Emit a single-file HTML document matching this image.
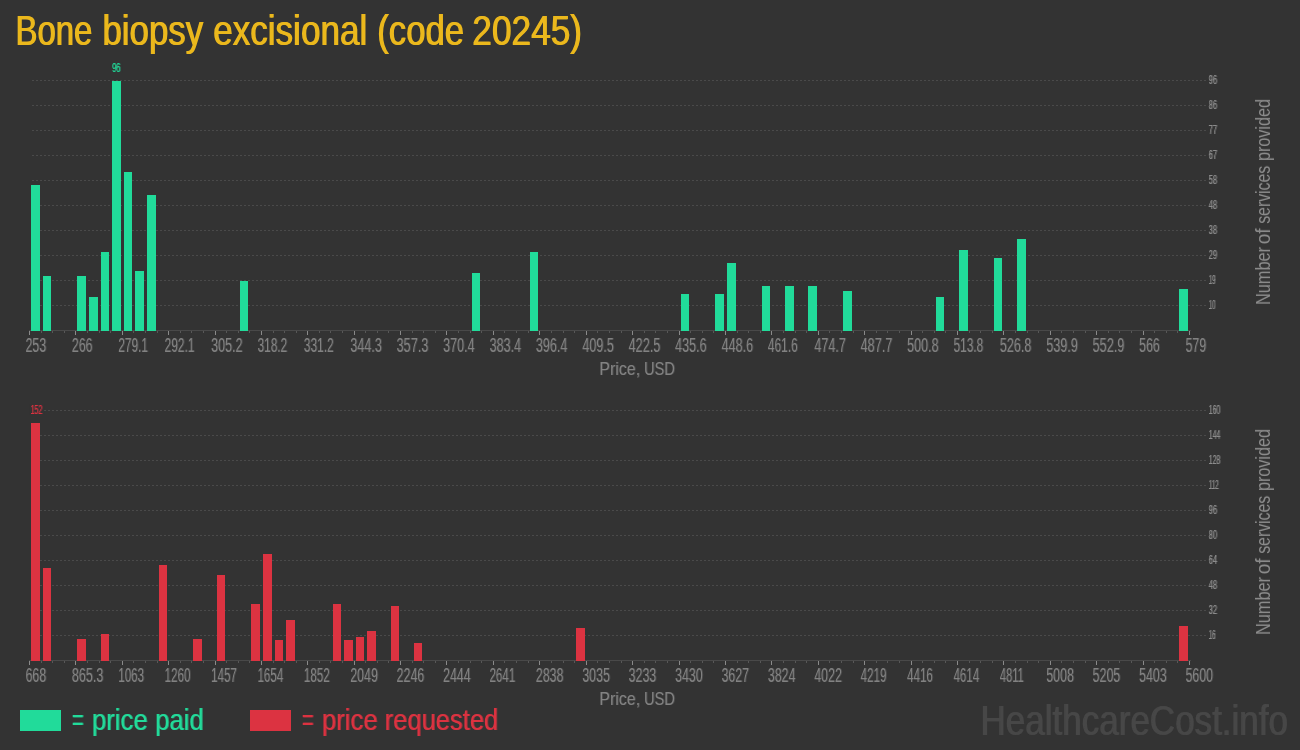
<!DOCTYPE html>
<html lang="en"><head><meta charset="utf-8"><title>Bone biopsy excisional (code 20245)</title>
<style>
html,body{margin:0;padding:0;background:#333333;overflow:hidden}
svg{display:block}
text{font-family:"Liberation Sans",sans-serif;white-space:pre}
</style></head><body>
<svg width="1300" height="750" viewBox="0 0 1300 750">
<defs><filter id="ft" x="-5%" y="-30%" width="110%" height="160%"><feOffset in="SourceGraphic" dx="1" dy="0" result="o1"/><feMerge><feMergeNode in="SourceGraphic"/><feMergeNode in="o1"/></feMerge></filter><filter id="fl" x="-5%" y="-30%" width="110%" height="160%"><feOffset in="SourceGraphic" dx="1" dy="0" result="o1"/><feComponentTransfer in="o1" result="o1"><feFuncA type="linear" slope="0.6"/></feComponentTransfer><feMerge><feMergeNode in="SourceGraphic"/><feMergeNode in="o1"/></feMerge></filter><filter id="fw" x="-5%" y="-30%" width="110%" height="160%"><feOffset in="SourceGraphic" dx="1" dy="0" result="o1"/><feMerge><feMergeNode in="SourceGraphic"/><feMergeNode in="o1"/></feMerge></filter><filter id="fp" x="-5%" y="-30%" width="110%" height="160%"><feOffset in="SourceGraphic" dx="1" dy="0" result="o1"/><feComponentTransfer in="o1" result="o1"><feFuncA type="linear" slope="0.3"/></feComponentTransfer><feMerge><feMergeNode in="SourceGraphic"/><feMergeNode in="o1"/></feMerge></filter><filter id="fx" x="-5%" y="-30%" width="110%" height="160%"><feOffset in="SourceGraphic" dx="1" dy="0" result="o1"/><feComponentTransfer in="o1" result="o1"><feFuncA type="linear" slope="0.3"/></feComponentTransfer><feMerge><feMergeNode in="SourceGraphic"/><feMergeNode in="o1"/></feMerge></filter><filter id="fv" x="-5%" y="-30%" width="110%" height="160%"><feOffset in="SourceGraphic" dx="1" dy="0" result="o1"/><feComponentTransfer in="o1" result="o1"><feFuncA type="linear" slope="0.15"/></feComponentTransfer><feMerge><feMergeNode in="SourceGraphic"/><feMergeNode in="o1"/></feMerge></filter><filter id="fy" x="-5%" y="-30%" width="110%" height="160%"><feOffset in="SourceGraphic" dx="1" dy="0" result="o1"/><feComponentTransfer in="o1" result="o1"><feFuncA type="linear" slope="0.5"/></feComponentTransfer><feMerge><feMergeNode in="SourceGraphic"/><feMergeNode in="o1"/></feMerge></filter></defs>
<rect width="1300" height="750" fill="#333333"/>
<g shape-rendering="crispEdges"><line x1="32" x2="1206" y1="80.5" y2="80.5" stroke="#4a4a4a" stroke-width="1" stroke-dasharray="2 2"/><line x1="32" x2="1206" y1="105.5" y2="105.5" stroke="#4a4a4a" stroke-width="1" stroke-dasharray="2 2"/><line x1="32" x2="1206" y1="130.5" y2="130.5" stroke="#4a4a4a" stroke-width="1" stroke-dasharray="2 2"/><line x1="32" x2="1206" y1="155.5" y2="155.5" stroke="#4a4a4a" stroke-width="1" stroke-dasharray="2 2"/><line x1="32" x2="1206" y1="180.5" y2="180.5" stroke="#4a4a4a" stroke-width="1" stroke-dasharray="2 2"/><line x1="32" x2="1206" y1="205.5" y2="205.5" stroke="#4a4a4a" stroke-width="1" stroke-dasharray="2 2"/><line x1="32" x2="1206" y1="230.5" y2="230.5" stroke="#4a4a4a" stroke-width="1" stroke-dasharray="2 2"/><line x1="32" x2="1206" y1="255.5" y2="255.5" stroke="#4a4a4a" stroke-width="1" stroke-dasharray="2 2"/><line x1="32" x2="1206" y1="280.5" y2="280.5" stroke="#4a4a4a" stroke-width="1" stroke-dasharray="2 2"/><line x1="32" x2="1206" y1="305.5" y2="305.5" stroke="#4a4a4a" stroke-width="1" stroke-dasharray="2 2"/><rect x="29" y="330" width="1162" height="1" fill="#494949"/><rect x="29" y="331" width="1" height="4" fill="#8a8a8a"/><rect x="41" y="331" width="1" height="2" fill="#585858"/><rect x="52" y="331" width="1" height="2" fill="#585858"/><rect x="64" y="331" width="1" height="2" fill="#585858"/><rect x="75" y="331" width="1" height="4" fill="#8a8a8a"/><rect x="87" y="331" width="1" height="2" fill="#585858"/><rect x="99" y="331" width="1" height="2" fill="#585858"/><rect x="110" y="331" width="1" height="2" fill="#585858"/><rect x="122" y="331" width="1" height="4" fill="#8a8a8a"/><rect x="133" y="331" width="1" height="2" fill="#585858"/><rect x="145" y="331" width="1" height="2" fill="#585858"/><rect x="157" y="331" width="1" height="2" fill="#585858"/><rect x="168" y="331" width="1" height="4" fill="#8a8a8a"/><rect x="180" y="331" width="1" height="2" fill="#585858"/><rect x="191" y="331" width="1" height="2" fill="#585858"/><rect x="203" y="331" width="1" height="2" fill="#585858"/><rect x="215" y="331" width="1" height="4" fill="#8a8a8a"/><rect x="226" y="331" width="1" height="2" fill="#585858"/><rect x="238" y="331" width="1" height="2" fill="#585858"/><rect x="249" y="331" width="1" height="2" fill="#585858"/><rect x="261" y="331" width="1" height="4" fill="#8a8a8a"/><rect x="273" y="331" width="1" height="2" fill="#585858"/><rect x="284" y="331" width="1" height="2" fill="#585858"/><rect x="296" y="331" width="1" height="2" fill="#585858"/><rect x="307" y="331" width="1" height="4" fill="#8a8a8a"/><rect x="319" y="331" width="1" height="2" fill="#585858"/><rect x="330" y="331" width="1" height="2" fill="#585858"/><rect x="342" y="331" width="1" height="2" fill="#585858"/><rect x="354" y="331" width="1" height="4" fill="#8a8a8a"/><rect x="365" y="331" width="1" height="2" fill="#585858"/><rect x="377" y="331" width="1" height="2" fill="#585858"/><rect x="388" y="331" width="1" height="2" fill="#585858"/><rect x="400" y="331" width="1" height="4" fill="#8a8a8a"/><rect x="412" y="331" width="1" height="2" fill="#585858"/><rect x="423" y="331" width="1" height="2" fill="#585858"/><rect x="435" y="331" width="1" height="2" fill="#585858"/><rect x="446" y="331" width="1" height="4" fill="#8a8a8a"/><rect x="458" y="331" width="1" height="2" fill="#585858"/><rect x="470" y="331" width="1" height="2" fill="#585858"/><rect x="481" y="331" width="1" height="2" fill="#585858"/><rect x="493" y="331" width="1" height="4" fill="#8a8a8a"/><rect x="504" y="331" width="1" height="2" fill="#585858"/><rect x="516" y="331" width="1" height="2" fill="#585858"/><rect x="528" y="331" width="1" height="2" fill="#585858"/><rect x="539" y="331" width="1" height="4" fill="#8a8a8a"/><rect x="551" y="331" width="1" height="2" fill="#585858"/><rect x="563" y="331" width="1" height="2" fill="#585858"/><rect x="574" y="331" width="1" height="2" fill="#585858"/><rect x="586" y="331" width="1" height="4" fill="#8a8a8a"/><rect x="597" y="331" width="1" height="2" fill="#585858"/><rect x="609" y="331" width="1" height="2" fill="#585858"/><rect x="621" y="331" width="1" height="2" fill="#585858"/><rect x="632" y="331" width="1" height="4" fill="#8a8a8a"/><rect x="644" y="331" width="1" height="2" fill="#585858"/><rect x="655" y="331" width="1" height="2" fill="#585858"/><rect x="667" y="331" width="1" height="2" fill="#585858"/><rect x="679" y="331" width="1" height="4" fill="#8a8a8a"/><rect x="690" y="331" width="1" height="2" fill="#585858"/><rect x="702" y="331" width="1" height="2" fill="#585858"/><rect x="713" y="331" width="1" height="2" fill="#585858"/><rect x="725" y="331" width="1" height="4" fill="#8a8a8a"/><rect x="737" y="331" width="1" height="2" fill="#585858"/><rect x="748" y="331" width="1" height="2" fill="#585858"/><rect x="760" y="331" width="1" height="2" fill="#585858"/><rect x="771" y="331" width="1" height="4" fill="#8a8a8a"/><rect x="783" y="331" width="1" height="2" fill="#585858"/><rect x="795" y="331" width="1" height="2" fill="#585858"/><rect x="806" y="331" width="1" height="2" fill="#585858"/><rect x="818" y="331" width="1" height="4" fill="#8a8a8a"/><rect x="829" y="331" width="1" height="2" fill="#585858"/><rect x="841" y="331" width="1" height="2" fill="#585858"/><rect x="853" y="331" width="1" height="2" fill="#585858"/><rect x="864" y="331" width="1" height="4" fill="#8a8a8a"/><rect x="876" y="331" width="1" height="2" fill="#585858"/><rect x="887" y="331" width="1" height="2" fill="#585858"/><rect x="899" y="331" width="1" height="2" fill="#585858"/><rect x="911" y="331" width="1" height="4" fill="#8a8a8a"/><rect x="922" y="331" width="1" height="2" fill="#585858"/><rect x="934" y="331" width="1" height="2" fill="#585858"/><rect x="945" y="331" width="1" height="2" fill="#585858"/><rect x="957" y="331" width="1" height="4" fill="#8a8a8a"/><rect x="969" y="331" width="1" height="2" fill="#585858"/><rect x="980" y="331" width="1" height="2" fill="#585858"/><rect x="992" y="331" width="1" height="2" fill="#585858"/><rect x="1003" y="331" width="1" height="4" fill="#8a8a8a"/><rect x="1015" y="331" width="1" height="2" fill="#585858"/><rect x="1027" y="331" width="1" height="2" fill="#585858"/><rect x="1038" y="331" width="1" height="2" fill="#585858"/><rect x="1050" y="331" width="1" height="4" fill="#8a8a8a"/><rect x="1061" y="331" width="1" height="2" fill="#585858"/><rect x="1073" y="331" width="1" height="2" fill="#585858"/><rect x="1085" y="331" width="1" height="2" fill="#585858"/><rect x="1096" y="331" width="1" height="4" fill="#8a8a8a"/><rect x="1108" y="331" width="1" height="2" fill="#585858"/><rect x="1119" y="331" width="1" height="2" fill="#585858"/><rect x="1131" y="331" width="1" height="2" fill="#585858"/><rect x="1143" y="331" width="1" height="4" fill="#8a8a8a"/><rect x="1154" y="331" width="1" height="2" fill="#585858"/><rect x="1166" y="331" width="1" height="2" fill="#585858"/><rect x="1177" y="331" width="1" height="2" fill="#585858"/><rect x="1189" y="331" width="1" height="4" fill="#8a8a8a"/><rect x="31" y="185" width="9" height="146" fill="#21DB9A"/><rect x="43" y="276" width="8" height="55" fill="#21DB9A"/><rect x="77" y="276" width="9" height="55" fill="#21DB9A"/><rect x="89" y="297" width="9" height="34" fill="#21DB9A"/><rect x="101" y="252" width="8" height="79" fill="#21DB9A"/><rect x="112" y="81" width="9" height="250" fill="#21DB9A"/><rect x="124" y="172" width="8" height="159" fill="#21DB9A"/><rect x="135" y="271" width="9" height="60" fill="#21DB9A"/><rect x="147" y="195" width="9" height="136" fill="#21DB9A"/><rect x="240" y="281" width="8" height="50" fill="#21DB9A"/><rect x="472" y="273" width="8" height="58" fill="#21DB9A"/><rect x="530" y="252" width="8" height="79" fill="#21DB9A"/><rect x="681" y="294" width="8" height="37" fill="#21DB9A"/><rect x="715" y="294" width="9" height="37" fill="#21DB9A"/><rect x="727" y="263" width="9" height="68" fill="#21DB9A"/><rect x="762" y="286" width="8" height="45" fill="#21DB9A"/><rect x="785" y="286" width="9" height="45" fill="#21DB9A"/><rect x="808" y="286" width="9" height="45" fill="#21DB9A"/><rect x="843" y="291" width="9" height="40" fill="#21DB9A"/><rect x="936" y="297" width="8" height="34" fill="#21DB9A"/><rect x="959" y="250" width="9" height="81" fill="#21DB9A"/><rect x="994" y="258" width="8" height="73" fill="#21DB9A"/><rect x="1017" y="239" width="9" height="92" fill="#21DB9A"/><rect x="1179" y="289" width="9" height="42" fill="#21DB9A"/></g>
<text x="25.40" y="352.00" font-size="19.7" fill="#828282" textLength="20.70" lengthAdjust="spacingAndGlyphs" filter="url(#fx)">253</text><text x="71.80" y="352.00" font-size="19.7" fill="#828282" textLength="20.70" lengthAdjust="spacingAndGlyphs" filter="url(#fx)">266</text><text x="118.20" y="352.00" font-size="19.7" fill="#828282" textLength="29.80" lengthAdjust="spacingAndGlyphs" filter="url(#fx)">279.1</text><text x="164.60" y="352.00" font-size="19.7" fill="#828282" textLength="29.80" lengthAdjust="spacingAndGlyphs" filter="url(#fx)">292.1</text><text x="211.00" y="352.00" font-size="19.7" fill="#828282" textLength="31.60" lengthAdjust="spacingAndGlyphs" filter="url(#fx)">305.2</text><text x="257.40" y="352.00" font-size="19.7" fill="#828282" textLength="29.80" lengthAdjust="spacingAndGlyphs" filter="url(#fx)">318.2</text><text x="303.80" y="352.00" font-size="19.7" fill="#828282" textLength="29.80" lengthAdjust="spacingAndGlyphs" filter="url(#fx)">331.2</text><text x="350.20" y="352.00" font-size="19.7" fill="#828282" textLength="31.60" lengthAdjust="spacingAndGlyphs" filter="url(#fx)">344.3</text><text x="396.60" y="352.00" font-size="19.7" fill="#828282" textLength="31.60" lengthAdjust="spacingAndGlyphs" filter="url(#fx)">357.3</text><text x="443.00" y="352.00" font-size="19.7" fill="#828282" textLength="31.60" lengthAdjust="spacingAndGlyphs" filter="url(#fx)">370.4</text><text x="489.40" y="352.00" font-size="19.7" fill="#828282" textLength="31.60" lengthAdjust="spacingAndGlyphs" filter="url(#fx)">383.4</text><text x="535.80" y="352.00" font-size="19.7" fill="#828282" textLength="31.60" lengthAdjust="spacingAndGlyphs" filter="url(#fx)">396.4</text><text x="582.20" y="352.00" font-size="19.7" fill="#828282" textLength="31.60" lengthAdjust="spacingAndGlyphs" filter="url(#fx)">409.5</text><text x="628.60" y="352.00" font-size="19.7" fill="#828282" textLength="31.60" lengthAdjust="spacingAndGlyphs" filter="url(#fx)">422.5</text><text x="675.00" y="352.00" font-size="19.7" fill="#828282" textLength="31.60" lengthAdjust="spacingAndGlyphs" filter="url(#fx)">435.6</text><text x="721.40" y="352.00" font-size="19.7" fill="#828282" textLength="31.60" lengthAdjust="spacingAndGlyphs" filter="url(#fx)">448.6</text><text x="767.80" y="352.00" font-size="19.7" fill="#828282" textLength="29.80" lengthAdjust="spacingAndGlyphs" filter="url(#fx)">461.6</text><text x="814.20" y="352.00" font-size="19.7" fill="#828282" textLength="31.60" lengthAdjust="spacingAndGlyphs" filter="url(#fx)">474.7</text><text x="860.60" y="352.00" font-size="19.7" fill="#828282" textLength="31.60" lengthAdjust="spacingAndGlyphs" filter="url(#fx)">487.7</text><text x="907.00" y="352.00" font-size="19.7" fill="#828282" textLength="31.60" lengthAdjust="spacingAndGlyphs" filter="url(#fx)">500.8</text><text x="953.40" y="352.00" font-size="19.7" fill="#828282" textLength="29.80" lengthAdjust="spacingAndGlyphs" filter="url(#fx)">513.8</text><text x="999.80" y="352.00" font-size="19.7" fill="#828282" textLength="31.60" lengthAdjust="spacingAndGlyphs" filter="url(#fx)">526.8</text><text x="1046.20" y="352.00" font-size="19.7" fill="#828282" textLength="31.60" lengthAdjust="spacingAndGlyphs" filter="url(#fx)">539.9</text><text x="1092.60" y="352.00" font-size="19.7" fill="#828282" textLength="31.60" lengthAdjust="spacingAndGlyphs" filter="url(#fx)">552.9</text><text x="1139.00" y="352.00" font-size="19.7" fill="#828282" textLength="20.70" lengthAdjust="spacingAndGlyphs" filter="url(#fx)">566</text><text x="1185.40" y="352.00" font-size="19.7" fill="#828282" textLength="20.70" lengthAdjust="spacingAndGlyphs" filter="url(#fx)">579</text><text x="1208.60" y="83.90" font-size="12" fill="#8c8c8c" textLength="8.30" lengthAdjust="spacingAndGlyphs" filter="url(#fy)">96</text><text x="1208.60" y="108.90" font-size="12" fill="#8c8c8c" textLength="8.30" lengthAdjust="spacingAndGlyphs" filter="url(#fy)">86</text><text x="1208.60" y="133.90" font-size="12" fill="#8c8c8c" textLength="8.30" lengthAdjust="spacingAndGlyphs" filter="url(#fy)">77</text><text x="1208.60" y="158.90" font-size="12" fill="#8c8c8c" textLength="8.30" lengthAdjust="spacingAndGlyphs" filter="url(#fy)">67</text><text x="1208.60" y="183.90" font-size="12" fill="#8c8c8c" textLength="8.30" lengthAdjust="spacingAndGlyphs" filter="url(#fy)">58</text><text x="1208.60" y="208.90" font-size="12" fill="#8c8c8c" textLength="8.30" lengthAdjust="spacingAndGlyphs" filter="url(#fy)">48</text><text x="1208.60" y="233.90" font-size="12" fill="#8c8c8c" textLength="8.30" lengthAdjust="spacingAndGlyphs" filter="url(#fy)">38</text><text x="1208.60" y="258.90" font-size="12" fill="#8c8c8c" textLength="8.30" lengthAdjust="spacingAndGlyphs" filter="url(#fy)">29</text><text x="1208.60" y="283.90" font-size="12" fill="#8c8c8c" textLength="6.80" lengthAdjust="spacingAndGlyphs" filter="url(#fy)">19</text><text x="1208.60" y="308.90" font-size="12" fill="#8c8c8c" textLength="6.80" lengthAdjust="spacingAndGlyphs" filter="url(#fy)">10</text><text y="375.00" font-size="19.15" fill="#828282" filter="url(#fp)"><tspan x="599.35" textLength="40.75" lengthAdjust="spacingAndGlyphs">Price,</tspan> <tspan x="643.90" textLength="31.00" lengthAdjust="spacingAndGlyphs">USD</tspan></text><text y="0" font-size="20.5" fill="#8a8a8a" filter="url(#fv)" transform="translate(1270.00,304) rotate(-90)"><tspan x="-1.05" textLength="58.00" lengthAdjust="spacingAndGlyphs">Number</tspan> <tspan x="59.65" textLength="15.75" lengthAdjust="spacingAndGlyphs">of</tspan> <tspan x="80.20" textLength="58.00" lengthAdjust="spacingAndGlyphs">services</tspan> <tspan x="142.90" textLength="62.00" lengthAdjust="spacingAndGlyphs">provided</tspan></text><rect x="110.9" y="62" width="11.4" height="11" fill="#333333"/><text x="111.90" y="71.60" font-size="12" fill="#21DB9A" textLength="8.40" lengthAdjust="spacingAndGlyphs" filter="url(#fy)">96</text>
<g shape-rendering="crispEdges"><line x1="32" x2="1206" y1="410.5" y2="410.5" stroke="#4a4a4a" stroke-width="1" stroke-dasharray="2 2"/><line x1="32" x2="1206" y1="435.5" y2="435.5" stroke="#4a4a4a" stroke-width="1" stroke-dasharray="2 2"/><line x1="32" x2="1206" y1="460.5" y2="460.5" stroke="#4a4a4a" stroke-width="1" stroke-dasharray="2 2"/><line x1="32" x2="1206" y1="485.5" y2="485.5" stroke="#4a4a4a" stroke-width="1" stroke-dasharray="2 2"/><line x1="32" x2="1206" y1="510.5" y2="510.5" stroke="#4a4a4a" stroke-width="1" stroke-dasharray="2 2"/><line x1="32" x2="1206" y1="535.5" y2="535.5" stroke="#4a4a4a" stroke-width="1" stroke-dasharray="2 2"/><line x1="32" x2="1206" y1="560.5" y2="560.5" stroke="#4a4a4a" stroke-width="1" stroke-dasharray="2 2"/><line x1="32" x2="1206" y1="585.5" y2="585.5" stroke="#4a4a4a" stroke-width="1" stroke-dasharray="2 2"/><line x1="32" x2="1206" y1="610.5" y2="610.5" stroke="#4a4a4a" stroke-width="1" stroke-dasharray="2 2"/><line x1="32" x2="1206" y1="635.5" y2="635.5" stroke="#4a4a4a" stroke-width="1" stroke-dasharray="2 2"/><rect x="29" y="660" width="1162" height="1" fill="#494949"/><rect x="29" y="661" width="1" height="4" fill="#8a8a8a"/><rect x="41" y="661" width="1" height="2" fill="#585858"/><rect x="52" y="661" width="1" height="2" fill="#585858"/><rect x="64" y="661" width="1" height="2" fill="#585858"/><rect x="75" y="661" width="1" height="4" fill="#8a8a8a"/><rect x="87" y="661" width="1" height="2" fill="#585858"/><rect x="99" y="661" width="1" height="2" fill="#585858"/><rect x="110" y="661" width="1" height="2" fill="#585858"/><rect x="122" y="661" width="1" height="4" fill="#8a8a8a"/><rect x="133" y="661" width="1" height="2" fill="#585858"/><rect x="145" y="661" width="1" height="2" fill="#585858"/><rect x="157" y="661" width="1" height="2" fill="#585858"/><rect x="168" y="661" width="1" height="4" fill="#8a8a8a"/><rect x="180" y="661" width="1" height="2" fill="#585858"/><rect x="191" y="661" width="1" height="2" fill="#585858"/><rect x="203" y="661" width="1" height="2" fill="#585858"/><rect x="215" y="661" width="1" height="4" fill="#8a8a8a"/><rect x="226" y="661" width="1" height="2" fill="#585858"/><rect x="238" y="661" width="1" height="2" fill="#585858"/><rect x="249" y="661" width="1" height="2" fill="#585858"/><rect x="261" y="661" width="1" height="4" fill="#8a8a8a"/><rect x="273" y="661" width="1" height="2" fill="#585858"/><rect x="284" y="661" width="1" height="2" fill="#585858"/><rect x="296" y="661" width="1" height="2" fill="#585858"/><rect x="307" y="661" width="1" height="4" fill="#8a8a8a"/><rect x="319" y="661" width="1" height="2" fill="#585858"/><rect x="330" y="661" width="1" height="2" fill="#585858"/><rect x="342" y="661" width="1" height="2" fill="#585858"/><rect x="354" y="661" width="1" height="4" fill="#8a8a8a"/><rect x="365" y="661" width="1" height="2" fill="#585858"/><rect x="377" y="661" width="1" height="2" fill="#585858"/><rect x="388" y="661" width="1" height="2" fill="#585858"/><rect x="400" y="661" width="1" height="4" fill="#8a8a8a"/><rect x="412" y="661" width="1" height="2" fill="#585858"/><rect x="423" y="661" width="1" height="2" fill="#585858"/><rect x="435" y="661" width="1" height="2" fill="#585858"/><rect x="446" y="661" width="1" height="4" fill="#8a8a8a"/><rect x="458" y="661" width="1" height="2" fill="#585858"/><rect x="470" y="661" width="1" height="2" fill="#585858"/><rect x="481" y="661" width="1" height="2" fill="#585858"/><rect x="493" y="661" width="1" height="4" fill="#8a8a8a"/><rect x="504" y="661" width="1" height="2" fill="#585858"/><rect x="516" y="661" width="1" height="2" fill="#585858"/><rect x="528" y="661" width="1" height="2" fill="#585858"/><rect x="539" y="661" width="1" height="4" fill="#8a8a8a"/><rect x="551" y="661" width="1" height="2" fill="#585858"/><rect x="563" y="661" width="1" height="2" fill="#585858"/><rect x="574" y="661" width="1" height="2" fill="#585858"/><rect x="586" y="661" width="1" height="4" fill="#8a8a8a"/><rect x="597" y="661" width="1" height="2" fill="#585858"/><rect x="609" y="661" width="1" height="2" fill="#585858"/><rect x="621" y="661" width="1" height="2" fill="#585858"/><rect x="632" y="661" width="1" height="4" fill="#8a8a8a"/><rect x="644" y="661" width="1" height="2" fill="#585858"/><rect x="655" y="661" width="1" height="2" fill="#585858"/><rect x="667" y="661" width="1" height="2" fill="#585858"/><rect x="679" y="661" width="1" height="4" fill="#8a8a8a"/><rect x="690" y="661" width="1" height="2" fill="#585858"/><rect x="702" y="661" width="1" height="2" fill="#585858"/><rect x="713" y="661" width="1" height="2" fill="#585858"/><rect x="725" y="661" width="1" height="4" fill="#8a8a8a"/><rect x="737" y="661" width="1" height="2" fill="#585858"/><rect x="748" y="661" width="1" height="2" fill="#585858"/><rect x="760" y="661" width="1" height="2" fill="#585858"/><rect x="771" y="661" width="1" height="4" fill="#8a8a8a"/><rect x="783" y="661" width="1" height="2" fill="#585858"/><rect x="795" y="661" width="1" height="2" fill="#585858"/><rect x="806" y="661" width="1" height="2" fill="#585858"/><rect x="818" y="661" width="1" height="4" fill="#8a8a8a"/><rect x="829" y="661" width="1" height="2" fill="#585858"/><rect x="841" y="661" width="1" height="2" fill="#585858"/><rect x="853" y="661" width="1" height="2" fill="#585858"/><rect x="864" y="661" width="1" height="4" fill="#8a8a8a"/><rect x="876" y="661" width="1" height="2" fill="#585858"/><rect x="887" y="661" width="1" height="2" fill="#585858"/><rect x="899" y="661" width="1" height="2" fill="#585858"/><rect x="911" y="661" width="1" height="4" fill="#8a8a8a"/><rect x="922" y="661" width="1" height="2" fill="#585858"/><rect x="934" y="661" width="1" height="2" fill="#585858"/><rect x="945" y="661" width="1" height="2" fill="#585858"/><rect x="957" y="661" width="1" height="4" fill="#8a8a8a"/><rect x="969" y="661" width="1" height="2" fill="#585858"/><rect x="980" y="661" width="1" height="2" fill="#585858"/><rect x="992" y="661" width="1" height="2" fill="#585858"/><rect x="1003" y="661" width="1" height="4" fill="#8a8a8a"/><rect x="1015" y="661" width="1" height="2" fill="#585858"/><rect x="1027" y="661" width="1" height="2" fill="#585858"/><rect x="1038" y="661" width="1" height="2" fill="#585858"/><rect x="1050" y="661" width="1" height="4" fill="#8a8a8a"/><rect x="1061" y="661" width="1" height="2" fill="#585858"/><rect x="1073" y="661" width="1" height="2" fill="#585858"/><rect x="1085" y="661" width="1" height="2" fill="#585858"/><rect x="1096" y="661" width="1" height="4" fill="#8a8a8a"/><rect x="1108" y="661" width="1" height="2" fill="#585858"/><rect x="1119" y="661" width="1" height="2" fill="#585858"/><rect x="1131" y="661" width="1" height="2" fill="#585858"/><rect x="1143" y="661" width="1" height="4" fill="#8a8a8a"/><rect x="1154" y="661" width="1" height="2" fill="#585858"/><rect x="1166" y="661" width="1" height="2" fill="#585858"/><rect x="1177" y="661" width="1" height="2" fill="#585858"/><rect x="1189" y="661" width="1" height="4" fill="#8a8a8a"/><rect x="31" y="423" width="9" height="238" fill="#DC3341"/><rect x="43" y="568" width="8" height="93" fill="#DC3341"/><rect x="77" y="639" width="9" height="22" fill="#DC3341"/><rect x="101" y="634" width="8" height="27" fill="#DC3341"/><rect x="159" y="565" width="8" height="96" fill="#DC3341"/><rect x="193" y="639" width="9" height="22" fill="#DC3341"/><rect x="217" y="575" width="8" height="86" fill="#DC3341"/><rect x="251" y="604" width="9" height="57" fill="#DC3341"/><rect x="263" y="554" width="9" height="107" fill="#DC3341"/><rect x="275" y="640" width="8" height="21" fill="#DC3341"/><rect x="286" y="620" width="9" height="41" fill="#DC3341"/><rect x="333" y="604" width="8" height="57" fill="#DC3341"/><rect x="344" y="640" width="9" height="21" fill="#DC3341"/><rect x="356" y="637" width="8" height="24" fill="#DC3341"/><rect x="367" y="631" width="9" height="30" fill="#DC3341"/><rect x="391" y="606" width="8" height="55" fill="#DC3341"/><rect x="414" y="643" width="8" height="18" fill="#DC3341"/><rect x="576" y="628" width="9" height="33" fill="#DC3341"/><rect x="1179" y="626" width="9" height="35" fill="#DC3341"/></g>
<text x="25.40" y="682.00" font-size="19.7" fill="#828282" textLength="20.70" lengthAdjust="spacingAndGlyphs" filter="url(#fx)">668</text><text x="71.80" y="682.00" font-size="19.7" fill="#828282" textLength="31.60" lengthAdjust="spacingAndGlyphs" filter="url(#fx)">865.3</text><text x="118.20" y="682.00" font-size="19.7" fill="#828282" textLength="25.80" lengthAdjust="spacingAndGlyphs" filter="url(#fx)">1063</text><text x="164.60" y="682.00" font-size="19.7" fill="#828282" textLength="25.80" lengthAdjust="spacingAndGlyphs" filter="url(#fx)">1260</text><text x="211.00" y="682.00" font-size="19.7" fill="#828282" textLength="25.80" lengthAdjust="spacingAndGlyphs" filter="url(#fx)">1457</text><text x="257.40" y="682.00" font-size="19.7" fill="#828282" textLength="25.80" lengthAdjust="spacingAndGlyphs" filter="url(#fx)">1654</text><text x="303.80" y="682.00" font-size="19.7" fill="#828282" textLength="25.80" lengthAdjust="spacingAndGlyphs" filter="url(#fx)">1852</text><text x="350.20" y="682.00" font-size="19.7" fill="#828282" textLength="27.60" lengthAdjust="spacingAndGlyphs" filter="url(#fx)">2049</text><text x="396.60" y="682.00" font-size="19.7" fill="#828282" textLength="27.60" lengthAdjust="spacingAndGlyphs" filter="url(#fx)">2246</text><text x="443.00" y="682.00" font-size="19.7" fill="#828282" textLength="27.60" lengthAdjust="spacingAndGlyphs" filter="url(#fx)">2444</text><text x="489.40" y="682.00" font-size="19.7" fill="#828282" textLength="25.80" lengthAdjust="spacingAndGlyphs" filter="url(#fx)">2641</text><text x="535.80" y="682.00" font-size="19.7" fill="#828282" textLength="27.60" lengthAdjust="spacingAndGlyphs" filter="url(#fx)">2838</text><text x="582.20" y="682.00" font-size="19.7" fill="#828282" textLength="27.60" lengthAdjust="spacingAndGlyphs" filter="url(#fx)">3035</text><text x="628.60" y="682.00" font-size="19.7" fill="#828282" textLength="27.60" lengthAdjust="spacingAndGlyphs" filter="url(#fx)">3233</text><text x="675.00" y="682.00" font-size="19.7" fill="#828282" textLength="27.60" lengthAdjust="spacingAndGlyphs" filter="url(#fx)">3430</text><text x="721.40" y="682.00" font-size="19.7" fill="#828282" textLength="27.60" lengthAdjust="spacingAndGlyphs" filter="url(#fx)">3627</text><text x="767.80" y="682.00" font-size="19.7" fill="#828282" textLength="27.60" lengthAdjust="spacingAndGlyphs" filter="url(#fx)">3824</text><text x="814.20" y="682.00" font-size="19.7" fill="#828282" textLength="27.60" lengthAdjust="spacingAndGlyphs" filter="url(#fx)">4022</text><text x="860.60" y="682.00" font-size="19.7" fill="#828282" textLength="25.80" lengthAdjust="spacingAndGlyphs" filter="url(#fx)">4219</text><text x="907.00" y="682.00" font-size="19.7" fill="#828282" textLength="25.80" lengthAdjust="spacingAndGlyphs" filter="url(#fx)">4416</text><text x="953.40" y="682.00" font-size="19.7" fill="#828282" textLength="25.80" lengthAdjust="spacingAndGlyphs" filter="url(#fx)">4614</text><text x="999.80" y="682.00" font-size="19.7" fill="#828282" textLength="24.00" lengthAdjust="spacingAndGlyphs" filter="url(#fx)">4811</text><text x="1046.20" y="682.00" font-size="19.7" fill="#828282" textLength="27.60" lengthAdjust="spacingAndGlyphs" filter="url(#fx)">5008</text><text x="1092.60" y="682.00" font-size="19.7" fill="#828282" textLength="27.60" lengthAdjust="spacingAndGlyphs" filter="url(#fx)">5205</text><text x="1139.00" y="682.00" font-size="19.7" fill="#828282" textLength="27.60" lengthAdjust="spacingAndGlyphs" filter="url(#fx)">5403</text><text x="1185.40" y="682.00" font-size="19.7" fill="#828282" textLength="27.60" lengthAdjust="spacingAndGlyphs" filter="url(#fx)">5600</text><text x="1208.60" y="413.90" font-size="12" fill="#8c8c8c" textLength="11.50" lengthAdjust="spacingAndGlyphs" filter="url(#fy)">160</text><text x="1208.60" y="438.90" font-size="12" fill="#8c8c8c" textLength="11.50" lengthAdjust="spacingAndGlyphs" filter="url(#fy)">144</text><text x="1208.60" y="463.90" font-size="12" fill="#8c8c8c" textLength="11.50" lengthAdjust="spacingAndGlyphs" filter="url(#fy)">128</text><text x="1208.60" y="488.90" font-size="12" fill="#8c8c8c" textLength="10.00" lengthAdjust="spacingAndGlyphs" filter="url(#fy)">112</text><text x="1208.60" y="513.90" font-size="12" fill="#8c8c8c" textLength="8.30" lengthAdjust="spacingAndGlyphs" filter="url(#fy)">96</text><text x="1208.60" y="538.90" font-size="12" fill="#8c8c8c" textLength="8.30" lengthAdjust="spacingAndGlyphs" filter="url(#fy)">80</text><text x="1208.60" y="563.90" font-size="12" fill="#8c8c8c" textLength="8.30" lengthAdjust="spacingAndGlyphs" filter="url(#fy)">64</text><text x="1208.60" y="588.90" font-size="12" fill="#8c8c8c" textLength="8.30" lengthAdjust="spacingAndGlyphs" filter="url(#fy)">48</text><text x="1208.60" y="613.90" font-size="12" fill="#8c8c8c" textLength="8.30" lengthAdjust="spacingAndGlyphs" filter="url(#fy)">32</text><text x="1208.60" y="638.90" font-size="12" fill="#8c8c8c" textLength="6.80" lengthAdjust="spacingAndGlyphs" filter="url(#fy)">16</text><text y="705.00" font-size="19.15" fill="#828282" filter="url(#fp)"><tspan x="599.35" textLength="40.75" lengthAdjust="spacingAndGlyphs">Price,</tspan> <tspan x="643.90" textLength="31.00" lengthAdjust="spacingAndGlyphs">USD</tspan></text><text y="0" font-size="20.5" fill="#8a8a8a" filter="url(#fv)" transform="translate(1270.00,634) rotate(-90)"><tspan x="-1.05" textLength="58.00" lengthAdjust="spacingAndGlyphs">Number</tspan> <tspan x="59.65" textLength="15.75" lengthAdjust="spacingAndGlyphs">of</tspan> <tspan x="80.20" textLength="58.00" lengthAdjust="spacingAndGlyphs">services</tspan> <tspan x="142.90" textLength="62.00" lengthAdjust="spacingAndGlyphs">provided</tspan></text><rect x="29.5" y="404" width="14.6" height="11" fill="#333333"/><text x="30.49" y="413.60" font-size="12" fill="#DC3341" textLength="11.60" lengthAdjust="spacingAndGlyphs" filter="url(#fy)">152</text>
<text y="45.00" font-size="42.2" fill="#EBB81F" filter="url(#ft)"><tspan x="14.95" textLength="77.00" lengthAdjust="spacingAndGlyphs">Bone</tspan> <tspan x="101.95" textLength="100.75" lengthAdjust="spacingAndGlyphs">biopsy</tspan> <tspan x="212.70" textLength="154.00" lengthAdjust="spacingAndGlyphs">excisional</tspan> <tspan x="376.80" textLength="86.75" lengthAdjust="spacingAndGlyphs">(code</tspan> <tspan x="471.85" textLength="109.75" lengthAdjust="spacingAndGlyphs">20245)</tspan></text>
<g shape-rendering="crispEdges"><rect x="20" y="710" width="41" height="21" fill="#21DB9A"/><rect x="250" y="710" width="41" height="21" fill="#DC3341"/></g>
<text y="729.50" font-size="29.8" fill="#21DB9A" filter="url(#fl)"><tspan x="71.70" textLength="11.75" lengthAdjust="spacingAndGlyphs">=</tspan> <tspan x="91.70" textLength="55.75" lengthAdjust="spacingAndGlyphs">price</tspan> <tspan x="155.10" textLength="48.50" lengthAdjust="spacingAndGlyphs">paid</tspan></text>
<text y="729.50" font-size="29.8" fill="#DC3341" filter="url(#fl)"><tspan x="301.70" textLength="11.75" lengthAdjust="spacingAndGlyphs">=</tspan> <tspan x="321.70" textLength="55.75" lengthAdjust="spacingAndGlyphs">price</tspan> <tspan x="384.55" textLength="113.50" lengthAdjust="spacingAndGlyphs">requested</tspan></text>
<text y="734.80" font-size="41.9" fill="#464646" filter="url(#fw)"><tspan x="980.05" textLength="307.50" lengthAdjust="spacingAndGlyphs">HealthcareCost.info</tspan></text>
</svg>
</body></html>
